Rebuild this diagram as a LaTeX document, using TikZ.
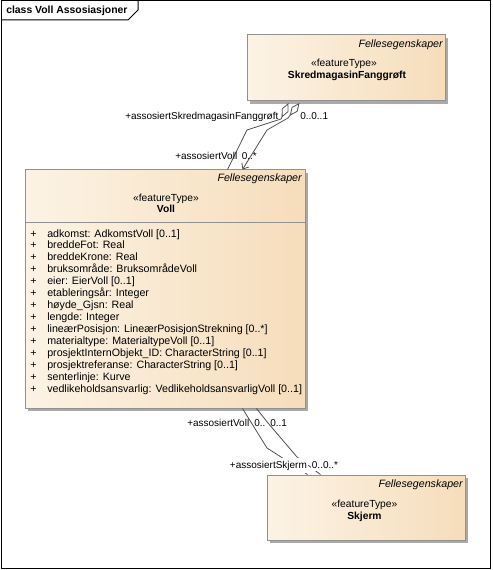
\documentclass[tikz,border=0pt]{standalone}
\usepackage{fontspec}
\setmainfont{Liberation Sans}
\usetikzlibrary{shadows,arrows.meta,calc}
\definecolor{boxL}{RGB}{252,243,229}
\definecolor{boxR}{RGB}{246,221,187}
\definecolor{boxB}{RGB}{145,145,145}
\definecolor{shad}{RGB}{170,170,170}
\definecolor{lineC}{RGB}{80,80,80}
\tikzset{
  AggTip/.tip={Diamond[open,length=12pt,width=5.5pt]},
  NavTip/.tip={Straight Barb[length=3.5pt,width=6pt]}
}
\begin{document}
\begin{tikzpicture}[x=0.75pt,y=-0.75pt,
  font=\fontsize{8}{9}\selectfont,
  every node/.style={inner sep=0pt},
  cls/.style={draw=boxB, line width=0.75pt, left color=boxL, right color=boxR,
    drop shadow={shadow xshift=2.6pt, shadow yshift=-2.6pt, fill=shad, opacity=1}},
  conn/.style={draw=lineC, line width=0.6pt},
  lbl/.style={anchor=base west, font=\fontsize{7.5}{9}\selectfont},
  lblw/.style={lbl, fill=white, inner xsep=0.5pt, inner ysep=2pt},
  attr/.style={anchor=base west},
  stereo/.style={anchor=base, font=\fontsize{7.7}{9}\selectfont},
  cname/.style={anchor=base, font=\fontsize{7.7}{9}\selectfont\bfseries},
  pkg/.style={anchor=base east, font=\fontsize{8}{9}\selectfont\itshape}
]
\useasboundingbox (0,0) rectangle (492,570);
% frame
\draw[line width=0.75pt] (1,1) rectangle (490.5,568.5);
\draw[line width=0.75pt] (1,20) -- (128,20) -- (138,10) -- (138,1);
\node[anchor=base west, font=\fontsize{7.8}{9}\selectfont\bfseries] (title) at (6,14) {class Voll Assosiasjoner};

% classes
\node[cls, minimum width=148.5pt, minimum height=49.5pt] (skred) at (346,68) {};
\node[cls, minimum width=210pt, minimum height=178.5pt] (voll) at (165,289) {};
\node[cls, minimum width=148.5pt, minimum height=48.75pt] (skjerm) at (366,507.5) {};
\coordinate (sepy) at (0,222);
\draw[boxB, line width=0.75pt] (voll.west |- sepy) -- (voll.east |- sepy);

% class texts
\node[pkg] (skredpkg) at (443,47.5) {Fellesegenskaper};
\node[stereo] (skredst) at (344,66.5) {«featureType»};
\node[cname] (skredname) at (347,79) {SkredmagasinFanggrøft};

\node[pkg] (vollpkg) at (302,182) {Fellesegenskaper};
\node[stereo] (vollst) at (166,201) {«featureType»};
\node[cname] (vollname) at (166,212.5) {Voll};

\node[pkg] (skjermpkg) at (463,487.5) {Fellesegenskaper};
\node[stereo] (skjermst) at (364.5,507) {«featureType»};
\node[cname] (skjermname) at (364.5,519) {Skjerm};

% attributes
\foreach \t [count=\i from 0] in {
  adkomst: AdkomstVoll [0..1],
  breddeFot: Real,
  breddeKrone: Real,
  bruksområde: BruksområdeVoll,
  eier: EierVoll [0..1],
  etableringsår: Integer,
  høyde\_Gjsn: Real,
  lengde: Integer,
  lineærPosisjon: LineærPosisjonStrekning [0..*],
  materialtype: MaterialtypeVoll [0..1],
  prosjektInternObjekt\_ID: CharacterString [0..1],
  prosjektreferanse: CharacterString [0..1],
  senterlinje: Kurve,
  vedlikeholdsansvarlig: VedlikeholdsansvarligVoll [0..1]}
{
  \node[attr] (p\i) at (30,237+11.93*\i) {+};
  \node[attr] (a\i) at (47,237+11.93*\i) {\t};
}

% connectors top
\coordinate (d1) at (281,119);
\coordinate (k1) at (247,130);
\coordinate (d2) at (288,118);
\coordinate (k2) at (267,130);
\draw[conn, AggTip-] ($(skred.south west)+(42,1.5)$) -- (d1) -- (k1) -- ($(voll.north west)+(203,0)$);
\draw[conn, AggTip-NavTip] ($(skred.south west)+(53,1.5)$) -- (d2) -- (k2) -- ($(voll.north west)+(218,0)$);

% connectors bottom
\coordinate (b1a) at (267,448);
\coordinate (b1b) at (281,457);
\coordinate (b2a) at (268,423);
\coordinate (b2b) at (297,457);
\draw[conn] ($(voll.south west)+(218,0)$) -- (b1a) -- (b1b) -- ($(skjerm.north west)+(41,0)$);
\draw[conn] ($(voll.south west)+(232,0)$) -- (b2a) -- (b2b) -- ($(skjerm.north west)+(54,0)$);

% role labels
\node[lbl] (r1) at (125,120) {+assosiertSkredmagasinFanggrøft};
\node[lbl] (m1) at (300,120) {0..0..1};
\node[lbl] (r2) at (175,160) {+assosiertVoll};
\node[lbl] (m2) at (241.5,160) {0..*};
\node[lbl] (r3) at (187,426.5) {+assosiertVoll};
\node[lbl] (m3a) at (254,426.5) {0..};
\node[lbl] (m3b) at (270,426.5) {0..1};
\node[lblw] (r4) at (229,468) {+assosiertSkjerm};
\node[lblw] (m4) at (311,468) {0..0..*};
\end{tikzpicture}
\end{document}
